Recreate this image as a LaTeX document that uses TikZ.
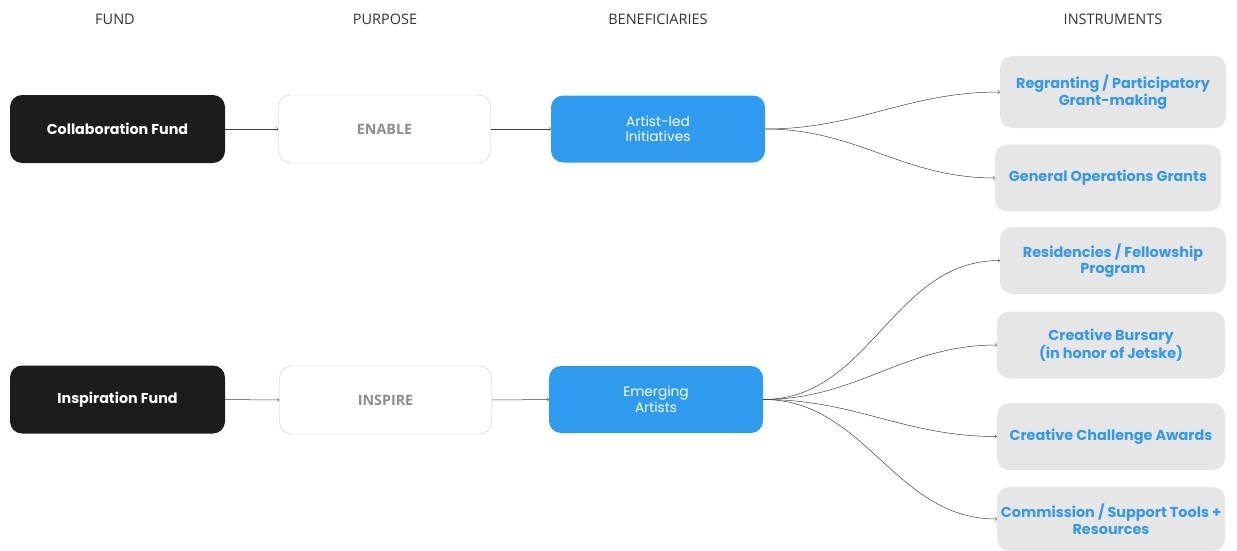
\documentclass[tikz,border=0pt]{standalone}
\usepackage{fontspec}
\setmainfont{Open Sans}
\newfontfamily\boxfont{Poppins}
\usetikzlibrary{positioning}
\definecolor{fundblack}{HTML}{1C1C1C}
\definecolor{benblue}{HTML}{2E9BEE}
\definecolor{instgray}{HTML}{E6E6E6}
\definecolor{insttext}{HTML}{3399E8}
\definecolor{purpgray}{HTML}{8C8C8C}
\definecolor{purpline}{HTML}{C8C8C8}
\tikzset{
  header/.style={text=black!80, font=\fontsize{14.5}{17}\selectfont},
  fundbox/.style={fill=fundblack, text=white, rounded corners=12pt,
    minimum width=215pt, minimum height=68pt,
    font=\boxfont\bfseries\fontsize{14.3}{16}\selectfont},
  purposebox/.style={draw=purpline, fill=white, text=purpgray, rounded corners=12pt,
    minimum width=212pt, minimum height=68pt,
    font=\bfseries\fontsize{14.3}{16}\selectfont},
  benbox/.style={fill=benblue, text=white, rounded corners=12pt, align=center,
    minimum width=214pt, minimum height=67pt,
    font=\boxfont\fontsize{13.7}{15.5}\selectfont},
  instbox/.style={fill=instgray, text=insttext, rounded corners=12pt, align=center,
    minimum width=226pt, minimum height=67pt,
    font=\boxfont\bfseries\fontsize{14.4}{16.5}\selectfont},
  link/.style={->, draw=black!75, line width=0.5pt},
}
\begin{document}
\begin{tikzpicture}[x=1pt, y=-1pt]
  \useasboundingbox (0,0) rectangle (1237,551);

  \node[header] (hfund) at (115,19) {FUND};
  \node[header] (hpurp) at (385,19) {PURPOSE};
  \node[header] (hben) at (658,19) {BENEFICIARIES};
  \node[header] (hinst) at (1113,19) {INSTRUMENTS};

  \node[fundbox] (collab) at (117.5,129) {Collaboration Fund};
  \node[purposebox] (enable) at (384.5,129) {ENABLE};
  \node[benbox] (artists) at (658,129) {Artist-led\\Initiatives};

  \node[fundbox] (inspfund) at (117.5,399.5) {Inspiration Fund};
  \node[purposebox] (inspire) at (385.5,400) {INSPIRE};
  \node[benbox] (emerging) at (656,399.5) {Emerging\\Artists};

  \node[instbox, minimum height=72pt] (regrant) at (1113,92) {Regranting / Participatory\\Grant-making};
  \node[instbox] (general) at (1108,178) {General Operations Grants};
  \node[instbox] (resid) at (1113,260.5) {Residencies / Fellowship\\Program};
  \node[instbox, minimum width=228pt] (bursary) at (1111,345) {Creative Bursary\\(in honor of Jetske)};
  \node[instbox, minimum width=228pt] (challenge) at (1111,436.5) {Creative Challenge Awards};
  \node[instbox, minimum width=228pt, minimum height=64pt] (commission) at (1111,519) {Commission / Support Tools +\\Resources};

  \draw[link] (collab) -- (enable);
  \draw[link] (enable) -- (artists);
  \draw[link] (inspfund) -- (inspire);
  \draw[link] (inspire) -- (emerging);

  \draw[link] (artists.east) to[out=0, in=180] (regrant.west);
  \draw[link] (artists.east) to[out=0, in=180] (general.west);

  \draw[link] (emerging.east) to[out=0, in=180] (resid.west);
  \draw[link] (emerging.east) to[out=0, in=180] (bursary.west);
  \draw[link] (emerging.east) to[out=0, in=180] (challenge.west);
  \draw[link] (emerging.east) to[out=0, in=180] (commission.west);
\end{tikzpicture}
\end{document}
